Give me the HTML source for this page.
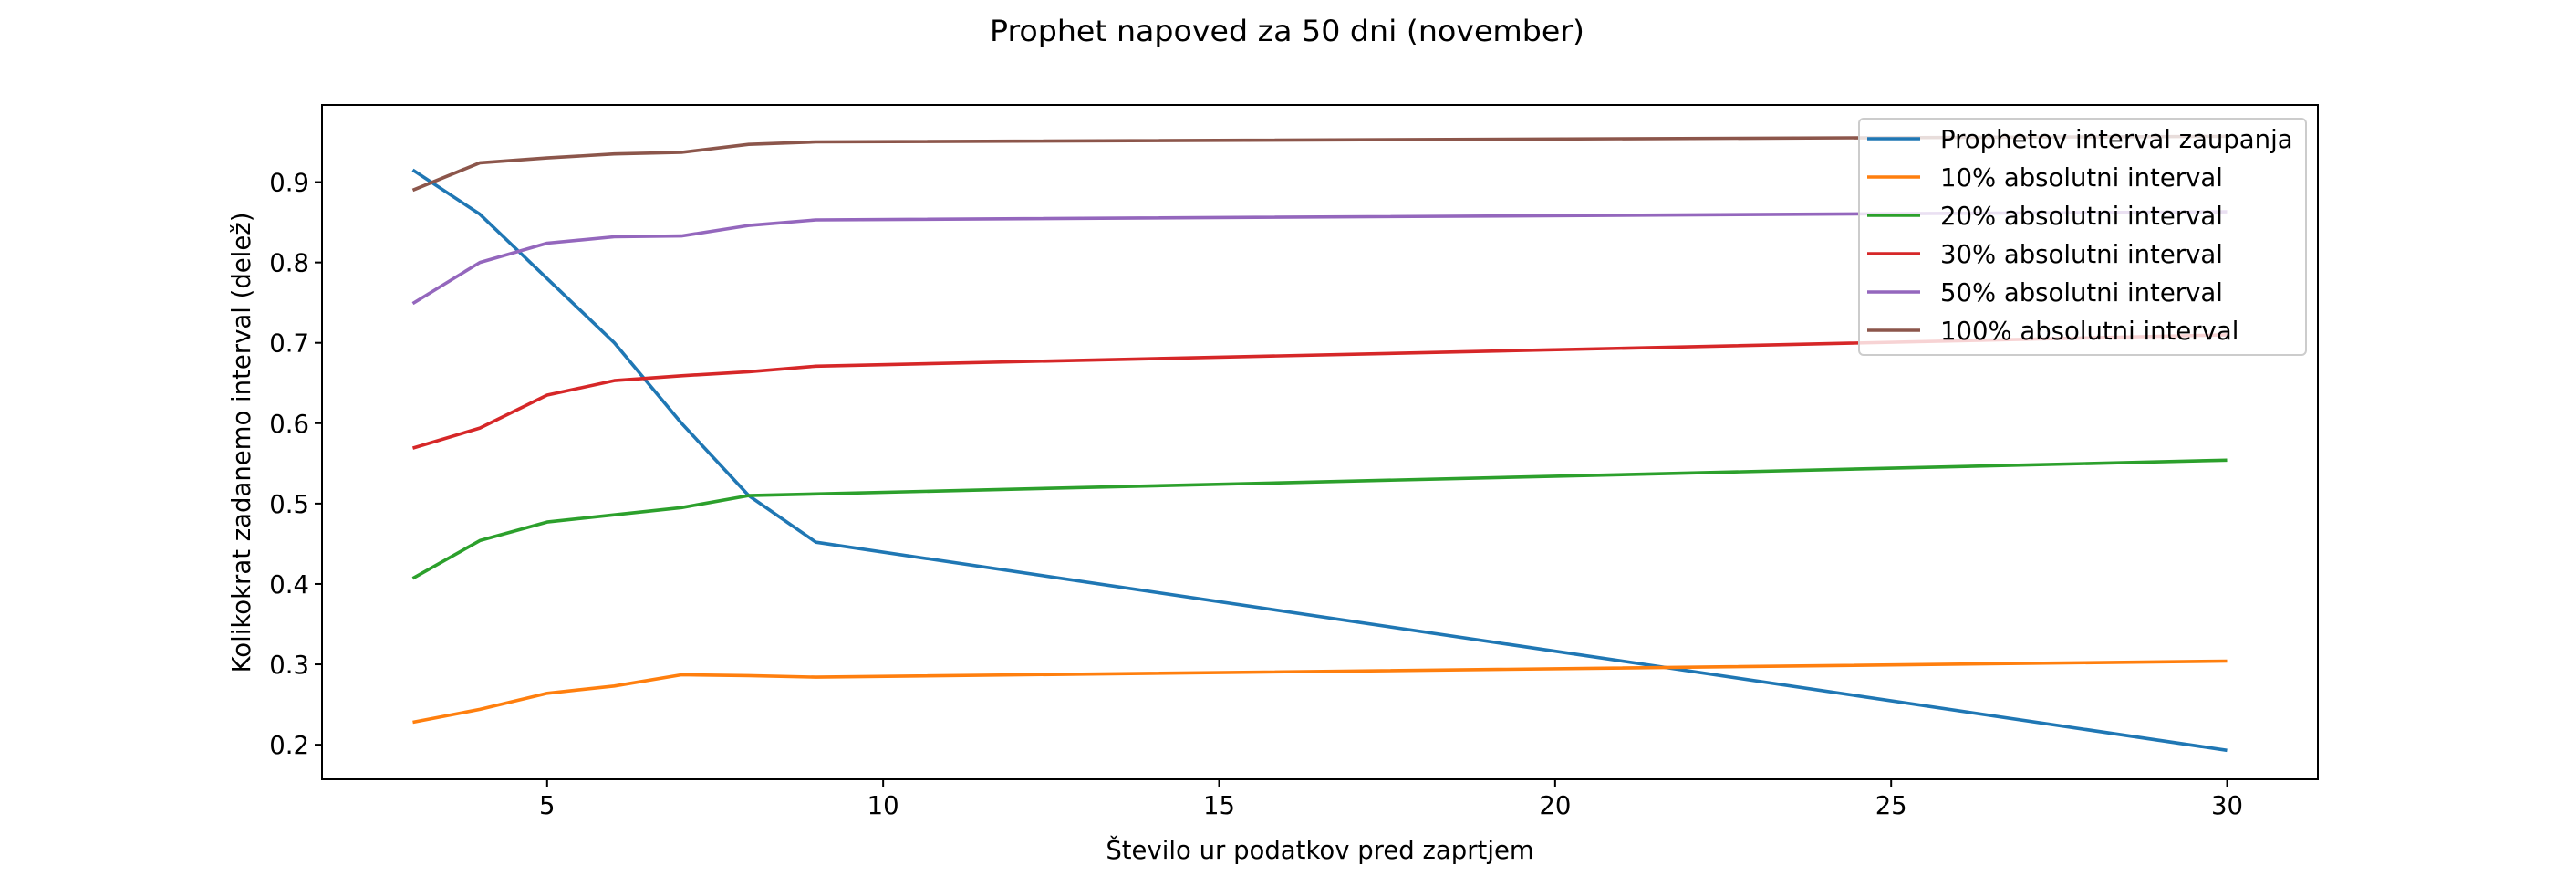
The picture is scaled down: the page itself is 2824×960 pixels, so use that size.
<!DOCTYPE html>
<html><head><meta charset="utf-8"><style>
html,body{margin:0;padding:0;background:#fff;}
svg{display:block;font-family:"DejaVu Sans","Liberation Sans",sans-serif;}
</style></head><body>
<svg id="chart" width="2824" height="960" viewBox="0 0 2824 960" xmlns="http://www.w3.org/2000/svg">
<rect width="2824" height="960" fill="#fff"/>
<text x="1411" y="45" font-size="32" text-anchor="middle" textLength="652" lengthAdjust="spacingAndGlyphs">Prophet napoved za 50 dni (november)</text>
<g id="plot"></g>
<rect x="353" y="115" width="2188" height="739" fill="none" stroke="#000" stroke-width="2"/>
<text x="1447" y="941" font-size="27.5" text-anchor="middle">Število ur podatkov pred zaprtjem</text>
<text x="0" y="0" font-size="27.5" text-anchor="middle" transform="translate(274,485) rotate(-90)">Kolikokrat zadanemo interval (delež)</text>
<g id="legend"></g>
</svg>
<script>
const xValues = [3,4,5,6,7,8,9,30];
const seriesNames = ["Prophetov interval zaupanja","10% absolutni interval","20% absolutni interval","30% absolutni interval","50% absolutni interval","100% absolutni interval"];
const seriesColors = ["#1f77b4","#ff7f0e","#2ca02c","#d62728","#9467bd","#8c564b"];
const prophetValues = [0.915,0.86,0.78,0.70,0.60,0.51,0.452,0.193];
const abs10Values = [0.228,0.244,0.264,0.273,0.287,0.286,0.284,0.304];
const abs20Values = [0.407,0.454,0.477,0.486,0.495,0.510,0.512,0.554];
const abs30Values = [0.569,0.594,0.635,0.653,0.659,0.664,0.671,0.710];
const abs50Values = [0.749,0.800,0.824,0.832,0.833,0.846,0.853,0.863];
const abs100Values = [0.890,0.924,0.930,0.935,0.937,0.947,0.950,0.957];
const xTicks = [5,10,15,20,25,30];
const yTicks = [0.2,0.3,0.4,0.5,0.6,0.7,0.8,0.9];

const NS="http://www.w3.org/2000/svg";
const L=353,R=2541,T=115,B=854;
const xMin=1.65,xMax=31.35,yMin=0.157,yMax=0.996;
function xs(v){return L+(v-xMin)/(xMax-xMin)*(R-L);}
function ys(v){return B-(v-yMin)/(yMax-yMin)*(B-T);}
function mk(tag,attrs,parent){const e=document.createElementNS(NS,tag);for(const k in attrs)e.setAttribute(k,attrs[k]);parent.appendChild(e);return e;}
const plot=document.getElementById('plot');
xTicks.forEach(t=>{
  const g=mk('g',{},plot);
  
  
  mk('line',{x1:xs(t),x2:xs(t),y1:B,y2:B+8,stroke:'#000','stroke-width':2},g);
  const tx=mk('text',{x:xs(t),y:B+38,'font-size':27.5,'text-anchor':'middle'},g);tx.textContent=t;
});
yTicks.forEach(t=>{
  const g=mk('g',{},plot);
  
  
  mk('line',{x1:L-8,x2:L,y1:ys(t),y2:ys(t),stroke:'#000','stroke-width':2},g);
  const tx=mk('text',{x:L-14,y:ys(t)+10,'font-size':27.5,'text-anchor':'end'},g);tx.textContent=t.toFixed(1);
});
const allSeries=[prophetValues,abs10Values,abs20Values,abs30Values,abs50Values,abs100Values];
const seriesKeys=['prophet','abs-10','abs-20','abs-30','abs-50','abs-100'];
allSeries.forEach((vals,i)=>{
  const pts=vals.map((v,j)=>xs(xValues[j]).toFixed(1)+','+ys(v).toFixed(1)).join(' ');
  const p=mk('polyline',{points:pts,fill:'none',stroke:seriesColors[i],'stroke-width':3.6,'stroke-linejoin':'round'},plot);
  
  
});
const leg=document.getElementById('legend');


mk('rect',{x:2038,y:130,width:490,height:259,rx:5,fill:'#fff','fill-opacity':0.8,stroke:'#ccc','stroke-width':2},leg);
seriesNames.forEach((n,i)=>{
  const g=mk('g',{},leg);
  
  
  const y=152+i*42;
  mk('line',{x1:2047,x2:2105,y1:y,y2:y,stroke:seriesColors[i],'stroke-width':3.6},g);
  const t=mk('text',{x:2127,y:y+10,'font-size':27.5},g);t.textContent=n;
});
</script>
</body></html>
